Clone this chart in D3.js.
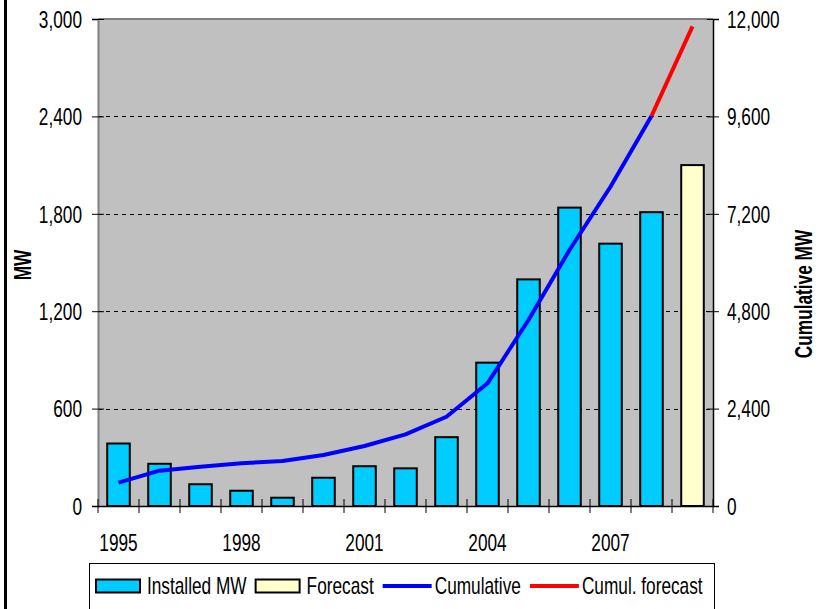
<!DOCTYPE html>
<html>
<head>
<meta charset="utf-8">
<script src="https://cdn.jsdelivr.net/npm/d3@7"></script>
<style>
  body { margin: 0; background: #fff; }
  svg { display: block; }
  text { font-family: "Liberation Sans", Arial, Helvetica, sans-serif; fill: #000; }
</style>
</head>
<body>
<svg id="chart" width="821" height="609"></svg>
<script>
// Annual installations (MW) by year
const years = [1995, 1996, 1997, 1998, 1999, 2000, 2001, 2002, 2003, 2004, 2005, 2006, 2007, 2008];
const installedMW = [385, 260, 134, 94, 51, 174, 245, 232, 424, 883, 1396, 1838, 1616, 1810];

// Forecast year
const forecastYears = [2009];
const forecastMW = [2100];

// Cumulative capacity (MW), right axis
const cumulativeMW = [575, 870, 968, 1052, 1109, 1257, 1478, 1766, 2200, 3023, 4583, 6308, 7867, 9610];
const cumulForecastYears = [2008, 2009];
const cumulForecastMW = [9610, 11820];

// Axis ticks and labels
const leftTicks = [0, 600, 1200, 1800, 2400, 3000];
const rightTicks = [0, 2400, 4800, 7200, 9600, 12000];
const yearLabels = [1995, 1998, 2001, 2004, 2007];
const legendLabels = ["Installed MW", "Forecast", "Cumulative", "Cumul. forecast"];

const svg = d3.select("#chart");
const X0 = 98, X1 = 713, Y0 = 19, Y1 = 506;
const NARROW = 0.75;   // condensed face
const FS = 23;

const allYears = years.concat(forecastYears);
const x = d3.scaleBand().domain(allYears).range([X0, X1]).paddingInner(0.45).paddingOuter(0.225);
const yL = d3.scaleLinear().domain([0, 3000]).range([Y1, Y0]);
const yR = d3.scaleLinear().domain([0, 12000]).range([Y1, Y0]);
const bw = x.bandwidth();
const cx = d => x(d) + bw / 2;

// thick rule along the left edge
svg.append("rect").attr("x", 4).attr("y", 0).attr("width", 3).attr("height", 609).attr("fill", "#000");

// plot background
svg.append("rect").attr("x", X0).attr("y", Y0).attr("width", X1 - X0).attr("height", Y1 - Y0)
  .attr("fill", "#c0c0c0");
svg.append("line").attr("x1", X0).attr("x2", X1).attr("y1", Y0).attr("y2", Y0)
  .attr("stroke", "#808080").attr("stroke-width", 2);

// dashed gridlines
svg.append("g").selectAll("line")
  .data(leftTicks.filter(t => t > 0 && t < 3000))
  .join("line")
  .attr("x1", X0).attr("x2", X1)
  .attr("y1", d => Math.round(yL(d)) + 0.5).attr("y2", d => Math.round(yL(d)) + 0.5)
  .attr("stroke", "#000").attr("stroke-width", 1).attr("stroke-dasharray", "4,4");

// bars
svg.append("g").selectAll("rect")
  .data(years.map((yr, i) => ({ yr, v: installedMW[i] })))
  .join("rect")
  .attr("x", d => x(d.yr)).attr("width", bw)
  .attr("y", d => yL(d.v)).attr("height", d => Y1 - yL(d.v))
  .attr("fill", "#00ccff").attr("stroke", "#000").attr("stroke-width", 2);

svg.append("g").selectAll("rect")
  .data(forecastYears.map((yr, i) => ({ yr, v: forecastMW[i] })))
  .join("rect")
  .attr("x", d => x(d.yr)).attr("width", bw)
  .attr("y", d => yL(d.v)).attr("height", d => Y1 - yL(d.v))
  .attr("fill", "#ffffcc").attr("stroke", "#000").attr("stroke-width", 2);

// cumulative lines
const line = d3.line().x(d => cx(d.yr)).y(d => yR(d.v));
svg.append("path")
  .datum(years.map((yr, i) => ({ yr, v: cumulativeMW[i] })))
  .attr("d", line).attr("fill", "none").attr("stroke", "#0000ff").attr("stroke-width", 4)
  .attr("stroke-linejoin", "round");
svg.append("path")
  .datum(cumulForecastYears.map((yr, i) => ({ yr, v: cumulForecastMW[i] })))
  .attr("d", line).attr("fill", "none").attr("stroke", "#ff0000").attr("stroke-width", 4)
  .attr("stroke-linejoin", "round");

// axes
const fmt = d3.format(",");
const gL = svg.append("g").attr("transform", `translate(${X0},0)`)
  .call(d3.axisLeft(yL).tickValues(leftTicks).tickFormat(fmt).tickSizeOuter(0).tickSize(6));
gL.select(".domain").attr("stroke", "#808080").attr("stroke-width", 2);
gL.selectAll(".tick line").attr("x1", 6).attr("stroke", "#000");
gL.selectAll(".tick text")
  .attr("x", -16 / NARROW).attr("dy", "0.36em")
  .attr("transform", `scale(${NARROW},1)`)
  .style("font-size", FS + "px").style("font-family", null);

const gR = svg.append("g").attr("transform", `translate(${X1},0)`)
  .call(d3.axisRight(yR).tickValues(rightTicks).tickFormat(fmt).tickSizeOuter(0).tickSize(6));
gR.select(".domain").attr("stroke", "#000").attr("stroke-width", 1.5);
gR.selectAll(".tick line").attr("x1", -6).attr("stroke", "#000");
gR.selectAll(".tick text")
  .attr("x", 14 / NARROW).attr("dy", "0.36em")
  .attr("transform", `scale(${NARROW},1)`)
  .style("font-size", FS + "px").style("font-family", null);

// x axis: baseline, tick marks between categories, labels every third year
const gB = svg.append("g").attr("transform", `translate(0,${Y1})`)
  .call(d3.axisBottom(x).tickValues(yearLabels).tickSize(0).tickSizeOuter(0).tickPadding(0));
gB.select(".domain").attr("stroke", "#000").attr("stroke-width", 1.5);
gB.selectAll(".tick text")
  .attr("y", 45).attr("dy", 0)
  .attr("transform", `scale(${NARROW},1)`)
  .style("font-size", FS + "px").style("font-family", null);
const step = x.step();
gB.append("g").selectAll("line")
  .data(d3.range(allYears.length + 1))
  .join("line")
  .attr("x1", i => X0 + i * step).attr("x2", i => X0 + i * step)
  .attr("y1", -7).attr("y2", 7)
  .attr("stroke", "#000").attr("stroke-width", 1);

// axis titles
svg.append("text")
  .attr("transform", `translate(31,265) rotate(-90) scale(${NARROW},1)`)
  .attr("text-anchor", "middle").style("font-size", FS + "px").style("font-weight", "bold")
  .text("MW");
svg.append("text")
  .attr("transform", `translate(812,294) rotate(-90) scale(${NARROW},1)`)
  .attr("text-anchor", "middle").style("font-size", FS + "px").style("font-weight", "bold")
  .text("Cumulative MW");

// legend
const lg = svg.append("g");
lg.append("rect").attr("x", 89.5).attr("y", 563.5).attr("width", 625).attr("height", 60)
  .attr("fill", "#fff").attr("stroke", "#000").attr("stroke-width", 1);

const legendItems = [
  { label: legendLabels[0], kind: "box", color: "#00ccff" },
  { label: legendLabels[1], kind: "box", color: "#ffffcc" },
  { label: legendLabels[2], kind: "line", color: "#0000ff" },
  { label: legendLabels[3], kind: "line", color: "#ff0000" }
];
let lx = 96;
const ly = 586;
legendItems.forEach(it => {
  if (it.kind === "box") {
    lg.append("rect").attr("x", lx).attr("y", ly - 6.5).attr("width", 44).attr("height", 13)
      .attr("fill", it.color).attr("stroke", "#000").attr("stroke-width", 2);
    lx += 44 + 7;
  } else {
    lg.append("line").attr("x1", lx).attr("x2", lx + 49).attr("y1", ly).attr("y2", ly)
      .attr("stroke", it.color).attr("stroke-width", 4);
    lx += 49 + 3;
  }
  const t = lg.append("text")
    .attr("transform", `translate(${lx},${ly + 8}) scale(${NARROW},1)`)
    .style("font-size", FS + "px")
    .text(it.label);
  lx += t.node().getComputedTextLength() * NARROW + 9;
});
</script>
</body>
</html>
